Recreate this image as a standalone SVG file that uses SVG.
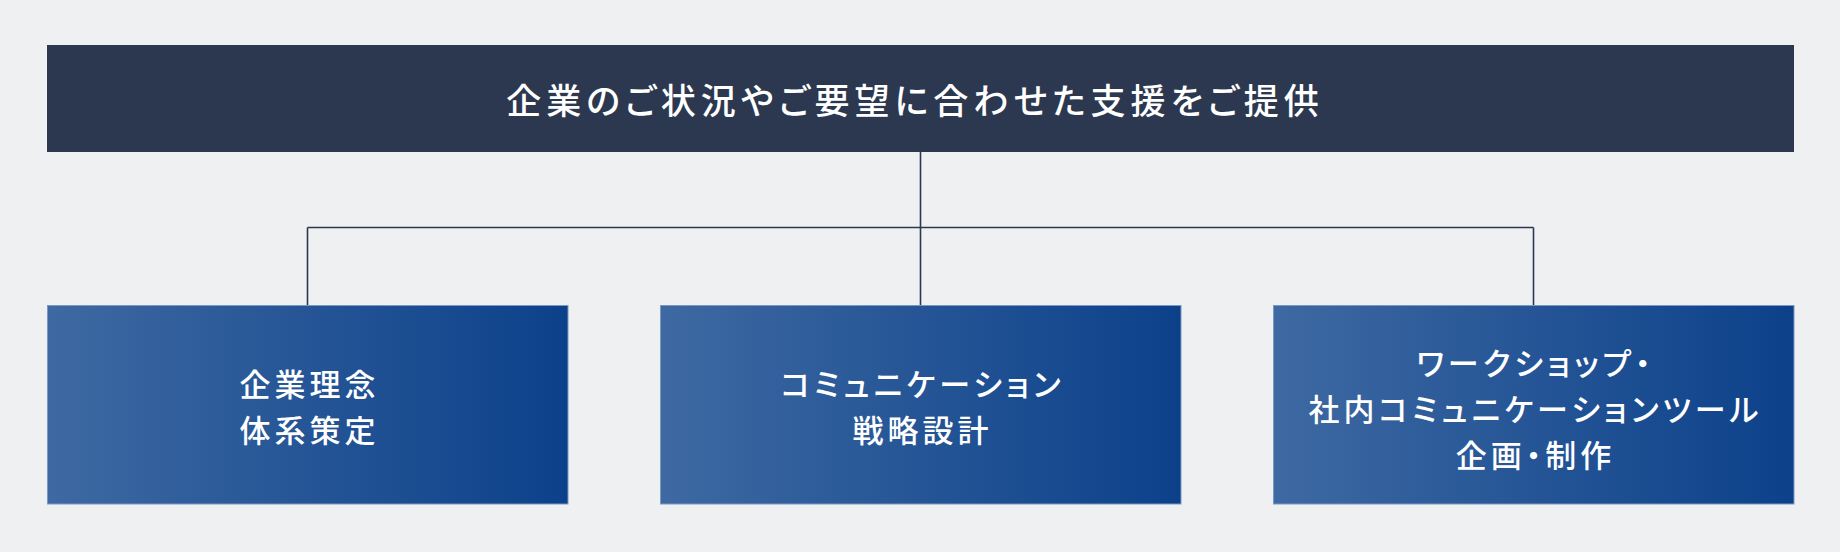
<svg xmlns="http://www.w3.org/2000/svg" width="1840" height="552" viewBox="0 0 1840 552">
<defs>
<linearGradient id="boxGrad" x1="0" y1="0" x2="1" y2="0">
<stop offset="0" stop-color="#3e69a2"/>
<stop offset="1" stop-color="#0c418a"/>
</linearGradient>
<style>
.bg{fill:#eff0f2}
.top{fill:#2b3850}
.box{fill:url(#boxGrad);stroke:#7a98c4;stroke-width:1}
.conn{fill:none;stroke:#2b3850;stroke-width:1.6}
.t{font-family:"Noto Sans CJK JP","Noto Sans CJK SC",sans-serif;fill:#ffffff;text-anchor:middle;dominant-baseline:central;font-feature-settings:"palt"}
.tt{font-size:35px;letter-spacing:5px;font-weight:500}
.bt{font-size:31px;letter-spacing:4px;font-weight:500}
</style>
</defs>
<rect class="bg" x="0" y="0" width="1840" height="552"/>
<g id="connectors">
<path class="conn" d="M920.5 152 V305"/>
<path class="conn" d="M307.5 227.5 H1533.5"/>
<path class="conn" d="M307.5 227.5 V305"/>
<path class="conn" d="M1533.5 227.5 V305"/>
</g>
<g id="node-top">
<rect class="top" x="47" y="45" width="1747" height="107"/>
<text class="t tt" x="915" y="98.5">企業のご状況やご要望に合わせた支援をご提供</text>
</g>
<g id="node-1">
<rect class="box" x="47.5" y="305.5" width="520.5" height="198.5"/>
<text class="t bt" x="309.5" y="382">企業理念</text>
<text class="t bt" x="309.5" y="428">体系策定</text>
</g>
<g id="node-2">
<rect class="box" x="660.5" y="305.5" width="520.5" height="198.5"/>
<text class="t bt" x="922.5" y="382">コミュニケーション</text>
<text class="t bt" x="922.5" y="428">戦略設計</text>
</g>
<g id="node-3">
<rect class="box" x="1273.5" y="305.5" width="520.5" height="198.5"/>
<text class="t bt" x="1535.5" y="361">ワークショップ・</text>
<text class="t bt" x="1535.5" y="407">社内コミュニケーションツール</text>
<text class="t bt" x="1535.5" y="453">企画・制作</text>
</g>
</svg>
